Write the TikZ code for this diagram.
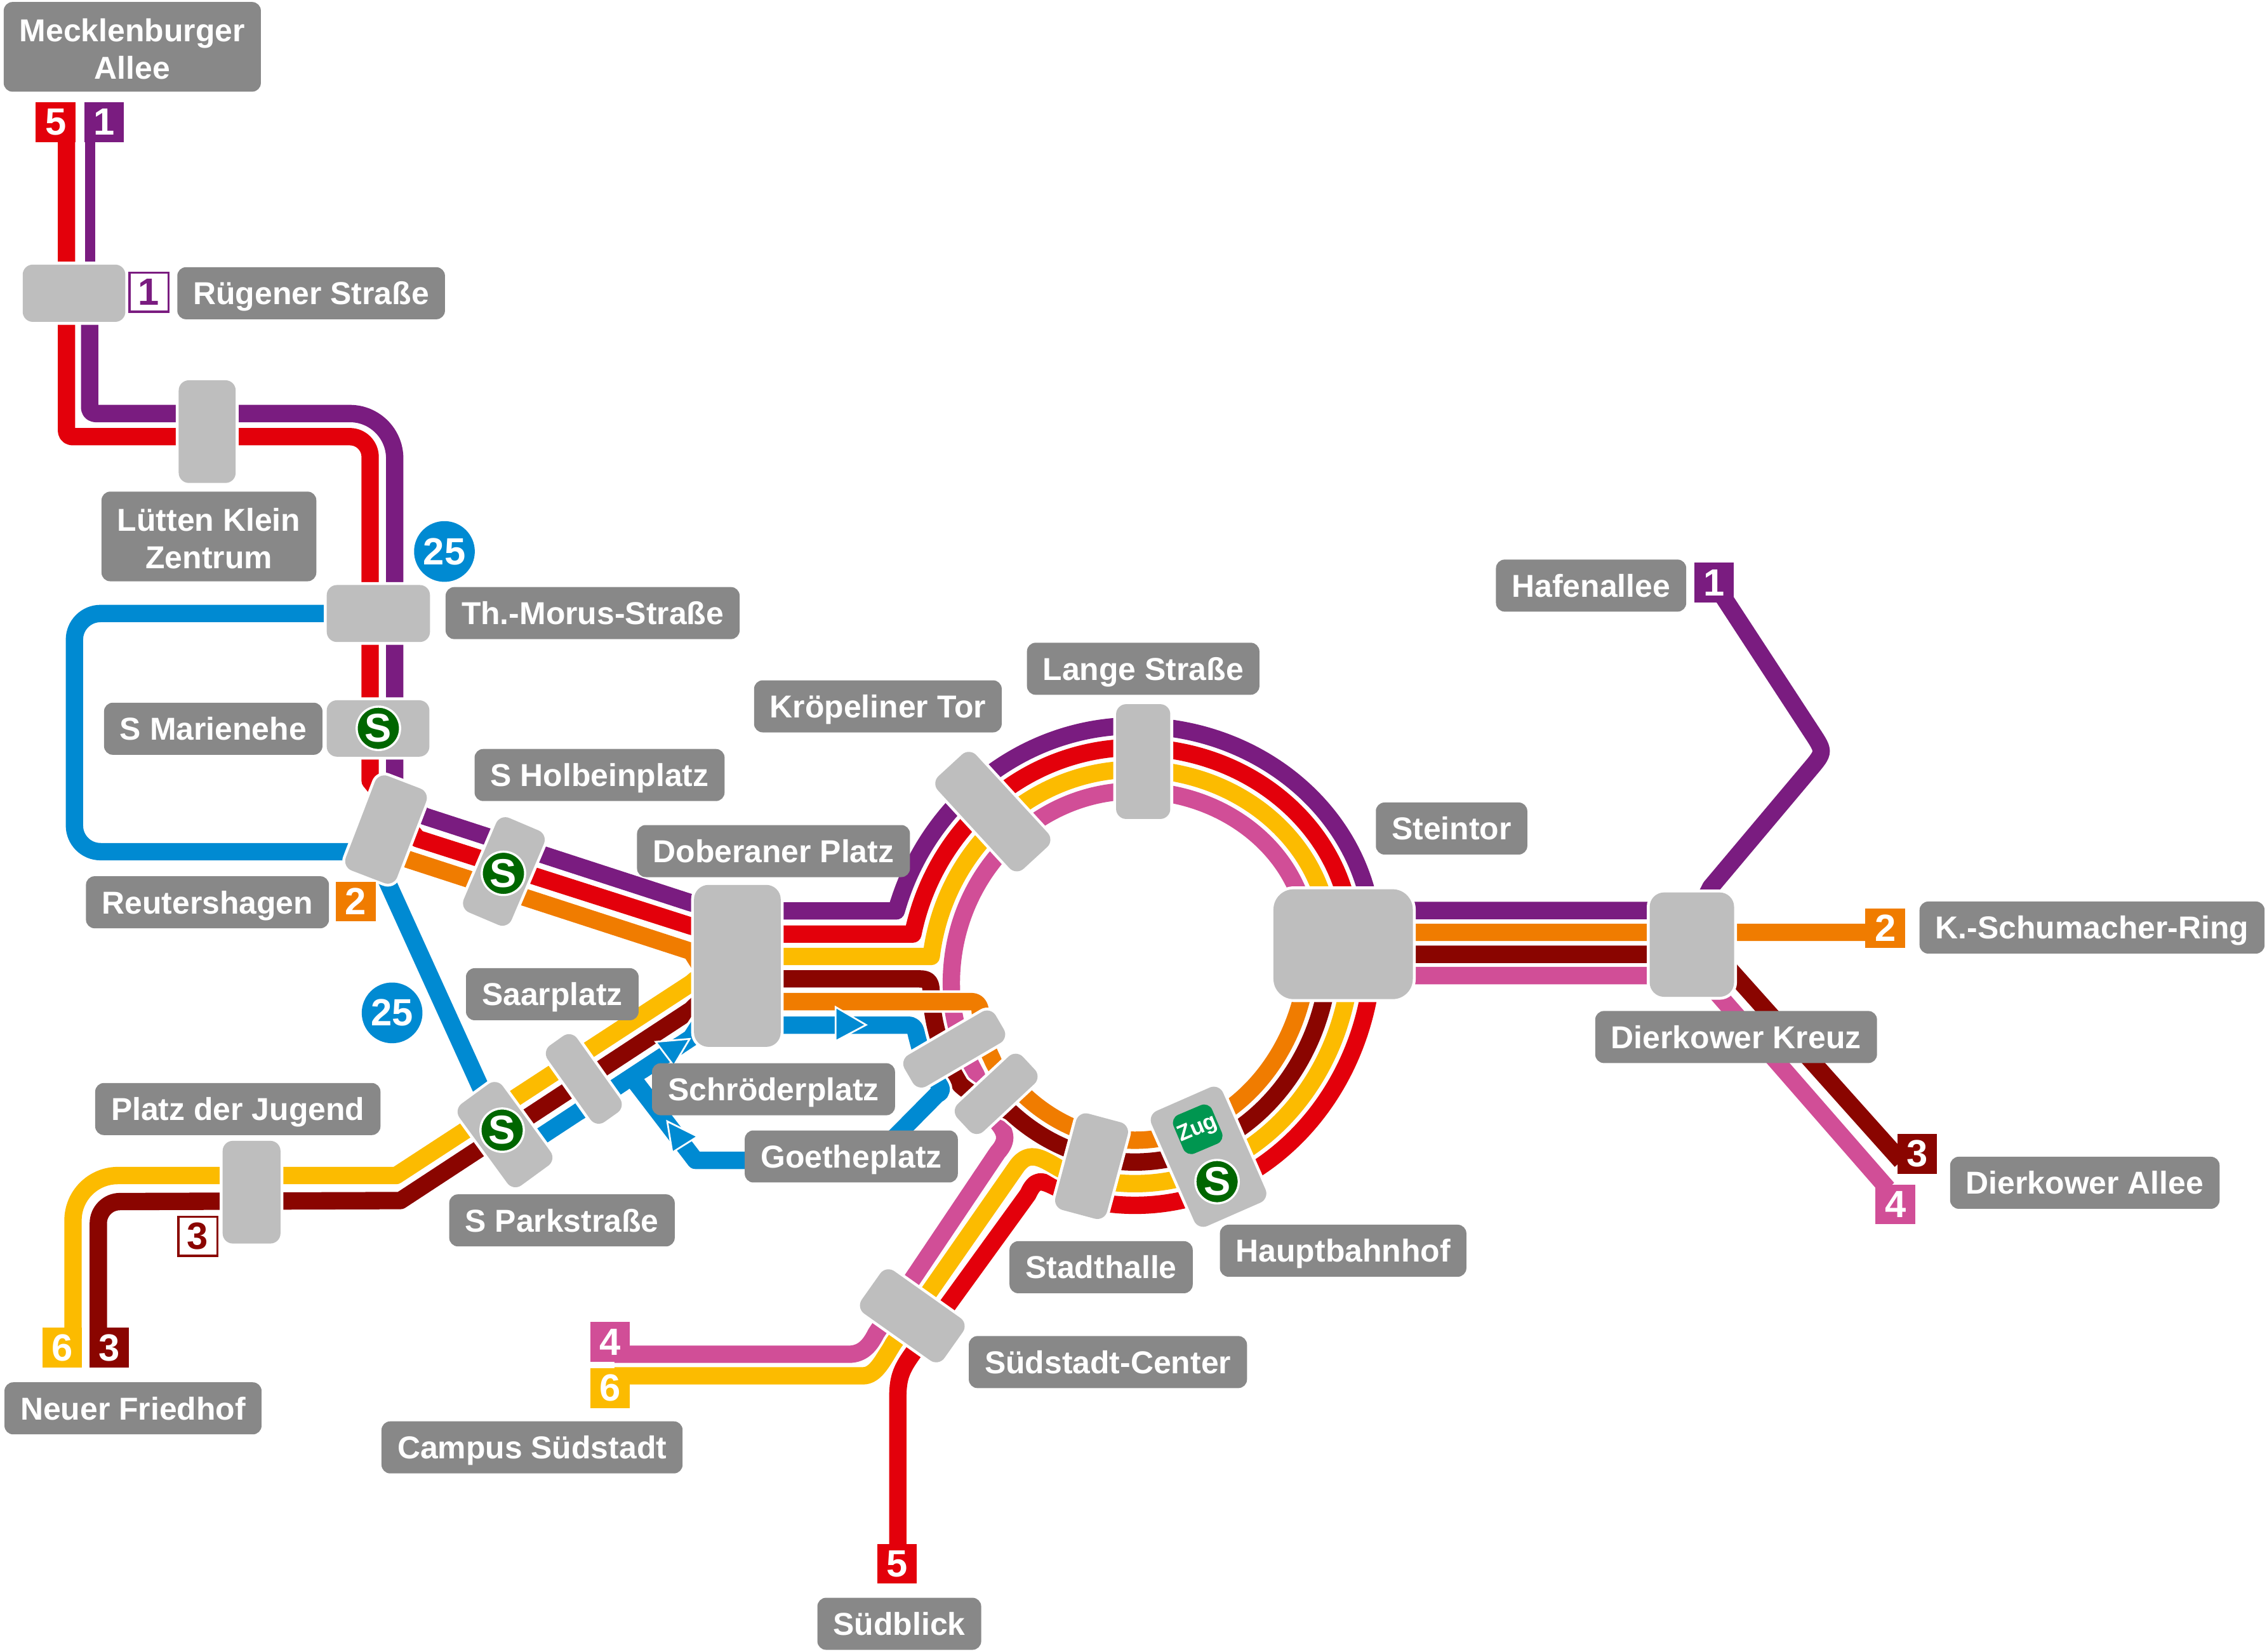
\documentclass[tikz,border=0pt]{standalone}
\usepackage{fontspec}
\setmainfont{Liberation Sans}
\usetikzlibrary{positioning}
\pgfdeclarelayer{lines}
\pgfsetlayers{lines,main}
\definecolor{lpurple}{HTML}{7A1C80}
\definecolor{lred}{HTML}{E3000B}
\definecolor{lyellow}{HTML}{FCBB00}
\definecolor{ldark}{HTML}{8A0500}
\definecolor{lorange}{HTML}{F07C00}
\definecolor{lpink}{HTML}{D14E97}
\definecolor{lblue}{HTML}{008AD2}
\definecolor{sgreen}{HTML}{006600}
\definecolor{zgreen}{HTML}{009650}
\definecolor{stgray}{HTML}{BEBEBE}
\definecolor{lbgray}{HTML}{888888}
\newcommand{\un}{0.022774cm}

\begin{document}
\begin{tikzpicture}
	[x=\un, y=\un,
	tube/.style = {draw=#1, line width=12*\un, line join=round, preaction={draw=white, line width=15.5*\un}},
	tubein/.style = {draw=#1, line width=12*\un},
	stn/.style 2 args = {rectangle, fill=stgray, preaction={draw=white, line width=4*\un}, rounded corners=7*\un, inner sep=0, minimum width=#1*\un, minimum height=#2*\un},
	lbl/.style = {rectangle, fill=lbgray, text=white, rounded corners=6*\un, inner xsep=11*\un, inner ysep=0, minimum height=36*\un, align=center, font=\bfseries\fontsize{14.2}{16.8}\selectfont, text height=13.2pt, text depth=3pt},
	lbltwo/.style = {lbl, minimum height=62*\un, text height=32pt, text depth=3pt},
	num/.style = {rectangle, fill=#1, text=white, inner sep=0, minimum size=27.5*\un, font=\bfseries\fontsize{17}{17}\selectfont},
	numo/.style = {rectangle, fill=white, draw=#1, text=#1, line width=1.5*\un, inner sep=0, minimum size=27*\un, font=\bfseries\fontsize{17}{17}\selectfont},
	bus/.style = {circle, fill=lblue, text=white, inner sep=0, minimum size=42*\un, font=\bfseries\fontsize{17}{17}\selectfont},
	slogo/.style = {circle, fill=sgreen, draw=white, text=white, line width=1.5*\un, inner sep=0, minimum size=30*\un, font=\bfseries\fontsize{18}{18}\selectfont},
	arrhd/.style = {fill=lblue, draw=white, line width=1.2*\un, line join=miter}]
	\useasboundingbox (0,0) rectangle (1568,-1142.1);
	\node (ruegen) [stn={71}{39.6}] at (51.2,-202.8) {};
	\node (lutten) [stn={39.4}{71}] at (143.3,-298.5) {};
	\node (morus) [stn={71.4}{39.4}] at (261.7,-424.3) {};
	\node (marienehe) [stn={71}{39}] at (261.5,-503.8) {};
	\node (reuters) [stn={70}{38}, rotate=69] at (267,-573.7) {};
	\node (holbein) [stn={71}{36}, rotate=67] at (348.5,-602.7) {};
	\node (doberan) [stn={60}{112}, rounded corners=10*\un] at (510,-668) {};
	\node (kroepelin) [stn={87}{36}, rotate=-47.4] at (686.7,-561.3) {};
	\node (lange) [stn={37.5}{79.4}] at (790.7,-526.7) {};
	\node (stein) [stn={96.4}{76}, rounded corners=14*\un] at (929,-653) {};
	\node (kreuz) [stn={58.4}{72.2}, rounded corners=10*\un] at (1170.2,-653.3) {};
	\node (saar) [stn={65}{25}, rotate=-54.6] at (403.8,-746.2) {};
	\node (park) [stn={70}{37}, rotate=-53.9] at (349.3,-784.7) {};
	\node (jugend) [stn={40}{71}] at (174,-824.5) {};
	\node (schroeder) [stn={73}{25}, rotate=30.3] at (660,-725.5) {};
	\node (goethe) [stn={62}{26}, rotate=43] at (689,-756.5) {};
	\node (stadthalle) [stn={69}{37}, rotate=75] at (755,-806.5) {};
	\node (hbf) [stn={87}{54}, rotate=-66.3] at (835.9,-800) {};
	\node (suedstadt) [stn={70}{36}, rotate=-35.3] at (631,-910) {};

	\node (smarie) [slogo] at (261.7,-503.7) {S};
	\node (sholbein) [slogo] at (348.2,-604) {S};
	\node (spark) [slogo] at (347.3,-781.6) {S};
	\node (shbf) [slogo] at (841.8,-817.2) {S};
	\node (zug) [rectangle, fill=zgreen, text=white, rounded corners=6*\un, inner sep=0, minimum size=29*\un, rotate=23, font=\bfseries\fontsize{10}{10}\selectfont] at (828.4,-781) {Zug};

	\node (t5n) [num=lred] at (38.5,-84.5) {5};
	\node (t1n) [num=lpurple] at (72,-84.5) {1};
	\node (t1e) [num=lpurple] at (1185.5,-403) {1};
	\node (t2w) [num=lorange] at (246,-623.5) {2};
	\node (t2e) [num=lorange] at (1304,-642) {2};
	\node (t3e) [num=ldark] at (1326,-798) {3};
	\node (t4e) [num=lpink] at (1311,-833) {4};
	\node (t6w) [num=lyellow] at (43,-932) {6};
	\node (t3w) [num=ldark] at (75.6,-932) {3};
	\node (t4s) [num=lpink] at (422,-928) {4};
	\node (t6s) [num=lyellow] at (422,-960) {6};
	\node (t5s) [num=lred] at (620.5,-1081.5) {5};
	\node (o1) [numo=lpurple] at (103,-202) {1};
	\node (o3) [numo=ldark] at (136.8,-855) {3};
	\node (b25a) [bus] at (307.4,-381.4) {25};
	\node (b25b) [bus] at (271.2,-700.5) {25};

	\node (mecklenl) [lbltwo] at (91.5,-32.4) {Mecklenburger\\Allee};
	\node (ruegenl) [lbl] at (215.2,-202.8) {Rügener Straße};
	\node (luttenl) [lbltwo] at (144.5,-371) {Lütten Klein\\Zentrum};
	\node (morusl) [lbl] at (409.9,-424) {Th.-Morus-Straße};
	\node (mariel) [lbl] at (147.5,-504) {S Marienehe};
	\node (holbeinl) [lbl] at (414.7,-536) {S Holbeinplatz};
	\node (kroepl) [lbl] at (607.2,-488.5) {Kröpeliner Tor};
	\node (langel) [lbl] at (790.7,-462.5) {Lange Straße};
	\node (doberl) [lbl] at (535,-588.6) {Doberaner Platz};
	\node (steinl) [lbl] at (1004,-573) {Steintor};
	\node (hafenl) [lbl] at (1100.5,-405) {Hafenallee};
	\node (schuml) [lbl] at (1447,-641.5) {K.-Schumacher-Ring};
	\node (kreuzl) [lbl] at (1200.8,-717.2) {Dierkower Kreuz};
	\node (alleel) [lbl] at (1442,-818) {Dierkower Allee};
	\node (reutl) [lbl] at (143.5,-624) {Reutershagen};
	\node (saarl) [lbl] at (382,-687.6) {Saarplatz};
	\node (schrl) [lbl] at (535,-753.3) {Schröderplatz};
	\node (goethel) [lbl] at (588.8,-799.8) {Goetheplatz};
	\node (jugendl) [lbl] at (164.5,-767) {Platz der Jugend};
	\node (parkl) [lbl] at (388.7,-844) {S Parkstraße};
	\node (stadtl) [lbl] at (761.6,-876.4) {Stadthalle};
	\node (hbfl) [lbl] at (929,-865) {Hauptbahnhof};
	\node (suedl) [lbl] at (766.3,-942) {Südstadt-Center};
	\node (neuerl) [lbl] at (92,-974) {Neuer Friedhof};
	\node (campusl) [lbl] at (368,-1001) {Campus Südstadt};
	\node (blickl) [lbl] at (622,-1123) {Südblick};

	\coordinate (e5n) at (46,-90);
	\coordinate (e1n) at (62.3,-90);
	\coordinate (e5s) at (621,-1075);
	\coordinate (e6w) at (50.5,-925);
	\coordinate (e3w) at (68,-925);
	\coordinate (e4s) at (425,-936.6);
	\coordinate (e6s) at (425,-951.5);
	\coordinate (e2w) at (270,-590.4);
	\coordinate (e2e) at (1304,-644.8);
	\coordinate (e3e) at (1315,-803);
	\coordinate (e4e) at (1305.6,-822);
	\coordinate (e25) at (255,-589);

	\begin{pgfonlayer}{lines}
	\draw [tube=lpurple, line width=7*\un] (e1n) -- (62.3,-200);
	\draw [tube=lpurple] (62,-200) -- (62,-282) arc[start angle=180, end angle=270, radius=4] -- (242,-286) arc[start angle=90, end angle=0, radius=31] -- (273,-550) -- (293.4,-564.4) -- (478,-624.4) -- (500,-630) -- (619.9,-630) arc[start angle=163.7, end angle=90, x radius=172, y radius=178] arc[start angle=90, end angle=0, x radius=165, y radius=151] -- (960,-629.7) -- (1175,-629.7) -- (1183.3,-613.5) -- (1251.7,-532.2) .. controls (1262,-520) .. (1253.2,-506.6) -- (t1e.center);
	\draw [tube=lred] (e5n) -- (46,-298) arc[start angle=180, end angle=270, radius=4] -- (242,-302) arc[start angle=90, end angle=0, radius=14] -- (256,-540) -- (288.8,-580) -- (478,-640.5) -- (500,-646) -- (631.4,-646) arc[start angle=168, end angle=90, x radius=157, y radius=163] arc[start angle=90, end angle=0, x radius=150, y radius=136] -- (950,-653) arc[start angle=0, end angle=-100, x radius=165, y radius=180.6] -- (730,-821) .. controls (720,-816) and (716,-815) .. (711,-826) -- (632,-935) .. controls (624,-946) and (621,-952) .. (621,-966) -- (e5s);
	\draw [tube=lyellow] (e6w) -- (50.5,-844) arc[start angle=180, end angle=90, radius=31] -- (274,-813) -- (478,-680) -- (500,-661.5) -- (644.1,-661.5) arc[start angle=172.8, end angle=90, x radius=142, y radius=148] arc[start angle=90, end angle=0, x radius=135, y radius=121] -- (935,-653) arc[start angle=0, end angle=-110, x radius=150, y radius=165.6] .. controls (722,-802) and (712,-794) .. (703,-807) -- (618,-929) .. controls (611,-940) and (606,-951.5) .. (597,-951.5) -- (e6s);
	\draw [tube=lpink] (e4s) -- (587,-936.6) .. controls (597,-936.6) and (602,-930) .. (606,-922) -- (690,-797) .. controls (698,-788) and (696,-782) .. (686,-772) -- (675,-743) .. controls (665,-725) and (658,-705) .. (658,-680) arc[start angle=180, end angle=90, x radius=127, y radius=133] arc[start angle=90, end angle=0, x radius=120, y radius=106] -- (960,-674.7) -- (1177,-674.7) -- (e4e);
	\draw [tube=ldark] (e3w) -- (68,-846) arc[start angle=180, end angle=90, radius=15] -- (277,-830.3) -- (478,-698.5) -- (500,-677) -- (636,-677) .. controls (642,-677) and (644,-679) .. (644,-686) .. controls (645,-715) and (655,-735) .. (664,-750) .. controls (672,-758) and (685,-762) .. (699,-769.1) arc[start angle=-129.6, end angle=0, x radius=135, y radius=150.6] -- (960,-660) -- (1187,-660) -- (e3e);
	\draw [tube=lorange] (e2w) -- (478,-658) -- (500,-692.7) -- (672,-692.7) .. controls (676,-692.7) and (678,-696) .. (678,-700) .. controls (680,-715) and (681,-722) .. (686,-732) .. controls (690,-742) and (698,-750) .. (709,-757.9) arc[start angle=-129.3, end angle=0, x radius=120, y radius=135.6] -- (960,-644.8) -- (e2e);
	\draw [tube=lblue] (morus.center) -- (69.5,-424.3) arc[start angle=90, end angle=180, radius=18] -- (51.5,-571) arc[start angle=180, end angle=270, radius=18] -- (e25);
	\draw [tube=lblue] (262,-597) -- (336,-760) -- (park.center);
	\draw [tube=lblue] (360,-795.2) -- (478,-717.8) -- (doberan.center);
	\draw [tube=lblue] (500,-709) -- (628,-709) .. controls (632,-709) and (633,-711) .. (634,-716) -- (639,-735) -- (648,-748) .. controls (652,-753) and (652,-755) .. (648,-757) -- (603,-802.5) -- (481,-802.5) -- (437,-745);
	\draw [tubein=lblue] (400,-769) -- (470,-723);
	\draw [arrhd] (599,-708.8) -- (578,-696.5) -- (578,-720) -- cycle;
	\draw [arrhd] (477,-718.5) -- (453.5,-720.5) -- (466,-737) -- cycle;
	\draw [arrhd] (461.5,-775.5) -- (465,-797) -- (482.5,-786) -- cycle;
	\end{pgfonlayer}
\end{tikzpicture}
\end{document}
